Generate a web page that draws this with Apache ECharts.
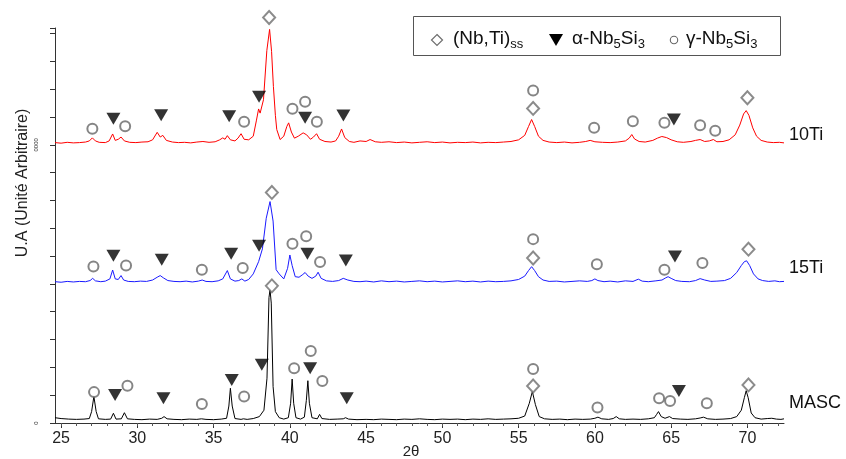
<!DOCTYPE html>
<html><head><meta charset="utf-8">
<script src="https://cdn.jsdelivr.net/npm/echarts@6/dist/echarts.min.js"></script>
<style>html,body{margin:0;padding:0;background:#fff}#c{width:846px;height:459px}</style>
</head><body><div id="c"></div>
<script>
// ---- tick labels ----
const xTickLabels = [25, 30, 35, 40, 45, 50, 55, 60, 65, 70];
const xMinorTicks = [25,26,27,28,29,30,31,32,33,34,35,36,37,38,39,40,41,42,43,44,45,46,47,48,49,50,51,52,53,54,55,56,57,58,59,60,61,62,63,64,65,66,67,68,69,70,71,72];
const seriesNames = ['10Ti', '15Ti', 'MASC'];
const phaseNames = ['(Nb,Ti)ss', 'α-Nb5Si3', 'γ-Nb5Si3'];

// ---- curve offsets (vertical stacking) ----
const offset10Ti = 1006;
const offset15Ti = 506;
const offsetMASC = 11;

// ---- 10Ti (red) ----
const x10Ti = [24.6,25.0,25.4,25.8,26.2,26.6,26.85,27.05,27.25,27.5,27.9,28.15,28.38,28.55,28.75,28.93,29.15,29.5,29.9,30.3,30.7,31.0,31.3,31.5,31.67,31.9,32.3,32.7,33.1,33.5,33.9,34.3,34.7,35.1,35.4,35.6,35.75,35.9,36.1,36.4,36.6,36.8,37.0,37.3,37.6,37.8,37.95,38.05,38.15,38.27,38.49,38.67,38.8,38.92,39.05,39.14,39.36,39.6,39.8,39.92,40.1,40.3,40.55,40.87,41.1,41.35,41.55,41.75,41.95,42.3,42.7,43.0,43.2,43.39,43.6,43.9,44.2,44.6,45.0,45.26,45.6,46.0,46.5,47.0,47.5,48.0,48.5,49.0,49.5,50.0,50.5,51.0,51.5,52.0,52.5,53.0,53.5,54.0,54.5,55.0,55.4,55.65,55.85,56.05,56.3,56.6,57.0,57.5,58.0,58.5,59.0,59.4,59.69,60.0,60.5,61.0,61.5,62.0,62.25,62.42,62.6,62.9,63.3,63.8,64.1,64.39,64.7,65.0,65.4,65.8,66.3,66.6,66.9,67.2,67.5,67.77,68.0,68.4,68.8,69.2,69.5,69.75,69.92,70.1,70.35,70.6,70.9,71.3,71.7,72.1,72.4];
const y10Ti = [2,0,3,1,2,4,8,19,8,3,2,8,33,10,14,22,8,3,2,4,5,12,39,22,28,10,4,2,3,1,4,6,3,5,12,19,14,27,12,8,18,34,14,12,25,80,123,108,112,156,333,409,330,204,100,49,13,25,60,73,40,18,25,37,30,14,22,34,14,6,4,8,25,51,20,6,3,8,6,13,5,3,5,2,4,1,3,5,2,4,1,3,2,4,1,3,2,4,6,12,28,60,85,60,25,10,4,2,4,1,3,6,10,5,3,2,4,8,18,31,15,6,4,10,18,24,20,12,5,3,6,10,13,6,8,13,5,6,12,30,65,105,117,100,55,25,10,4,2,3,1];

// ---- 15Ti (blue) ----
const x15Ti = [24.6,25.0,25.4,25.8,26.2,26.6,26.9,27.07,27.25,27.6,27.9,28.2,28.38,28.55,28.75,28.93,29.1,29.4,29.8,30.2,30.6,31.0,31.3,31.5,31.7,32.0,32.4,32.8,33.2,33.6,34.0,34.25,34.5,34.9,35.3,35.6,35.9,36.1,36.4,36.65,36.85,37.05,37.3,37.6,37.95,38.2,38.45,38.7,38.9,39.1,39.3,39.6,39.85,40.0,40.15,40.35,40.6,40.85,41.0,41.2,41.45,41.7,41.85,42.05,42.4,42.8,43.2,43.5,43.8,44.2,44.6,45.0,45.5,46.0,46.5,47.0,47.5,48.0,48.5,49.0,49.5,50.0,50.5,51.0,51.5,52.0,52.5,53.0,53.5,54.0,54.5,55.0,55.4,55.65,55.85,56.05,56.3,56.6,57.0,57.5,58.0,58.5,59.0,59.5,59.8,60.0,60.2,60.6,61.0,61.5,62.0,62.5,62.85,63.1,63.5,64.0,64.4,64.65,64.8,65.0,65.3,65.7,66.2,66.6,66.9,67.0,67.2,67.6,68.0,68.5,68.9,69.3,69.6,69.8,69.95,70.15,70.4,70.7,71.0,71.4,71.8,72.1,72.4];
const y15Ti = [2,0,3,1,3,2,6,14,5,2,4,12,44,12,10,24,8,3,2,4,3,8,18,24,16,6,3,2,4,1,4,8,3,2,5,12,42,12,4,6,12,4,10,30,74,120,230,290,220,45,30,12,50,98,60,20,18,28,35,22,14,22,36,14,5,3,6,14,8,3,2,4,1,5,2,4,1,3,5,2,4,1,3,5,2,4,1,4,2,3,5,10,22,42,56,42,20,8,3,4,1,3,5,3,6,12,6,2,4,1,5,3,11,4,2,5,8,16,20,14,6,3,2,6,13,18,8,3,4,6,14,35,60,74,77,60,30,12,6,3,5,2,3];

// ---- MASC (black) ----
const xMASC = [24.6,25.0,25.5,26.0,26.5,26.85,27.0,27.15,27.3,27.45,27.9,28.25,28.43,28.6,28.95,29.15,29.35,29.8,30.3,30.8,31.3,31.6,31.75,31.95,32.4,32.9,33.4,33.9,34.2,34.33,34.5,35.0,35.5,35.85,36.0,36.1,36.22,36.4,36.8,36.95,37.2,37.6,38.0,38.3,38.5,38.63,38.7,38.78,38.9,39.05,39.3,39.6,39.9,40.05,40.15,40.25,40.4,40.7,40.95,41.08,41.18,41.28,41.45,41.8,41.95,42.1,42.6,43.1,43.5,43.65,43.85,44.4,45.0,45.5,46.0,46.5,47.0,47.5,48.0,48.5,49.0,49.5,50.0,50.5,51.0,51.5,52.0,52.5,53.0,53.5,54.0,54.5,55.0,55.4,55.7,55.9,56.1,56.35,56.7,57.2,57.7,58.2,58.7,59.2,59.7,60.0,60.2,60.45,60.9,61.2,61.4,61.6,62.0,62.5,63.0,63.5,63.9,64.05,64.17,64.35,64.6,64.89,65.1,65.6,66.1,66.6,66.9,67.12,67.4,67.9,68.4,68.9,69.3,69.6,69.8,69.92,70.05,70.25,70.5,70.9,71.3,71.6,71.9,72.2,72.4];
const yMASC = [8,5,3,2,3,5,30,84,30,4,2,3,24,3,4,26,4,2,1,3,2,6,12,4,2,1,3,2,4,8,2,1,3,6,50,114,50,5,2,4,2,5,12,35,150,440,468,420,120,30,8,3,8,60,147,60,8,3,10,70,141,60,8,4,20,5,2,3,4,8,3,1,2,1,3,2,1,3,2,4,2,1,3,2,3,1,3,2,4,2,3,4,6,14,60,102,55,12,4,2,3,1,3,2,3,6,10,4,2,5,12,4,2,3,2,4,8,20,30,12,6,12,5,3,2,4,7,10,4,2,3,5,12,35,80,105,80,25,8,3,5,6,3,2,4];

// ---- phase markers [2θ, U.A] ----
const nbTiSS = [[38.64,1458],[55.95,1131],[70.00,1169],[38.82,829],[55.95,593],[70.07,625],[38.82,493],[55.95,133],[70.07,137]];
const alphaNb5Si3 = [[28.43,1094],[31.56,1106],[36.02,1103],[37.98,1173],[41.00,1097],[43.51,1105],[65.18,1091],
  [28.43,601],[31.60,587],[36.15,608],[37.98,637],[41.15,608],[43.67,584],[65.25,599],
  [28.54,101],[31.71,89],[36.19,155],[38.16,209],[41.33,197],[43.73,89],[65.51,115]];
const gammaNb5Si3 = [[27.05,1058],[29.20,1067],[37.00,1083],[40.17,1130],[41.00,1155],[41.77,1083],[55.95,1195],[59.95,1061],[62.49,1085],[64.56,1079],[66.90,1070],[67.89,1051],
  [27.12,563],[29.26,566],[34.23,551],[36.91,557],[40.17,644],[41.07,671],[41.98,579],[55.95,661],[60.13,571],[64.56,551],[67.05,575],
  [27.16,111],[29.35,134],[34.23,68],[37.00,95],[40.28,197],[41.37,259],[42.13,151],[55.95,194],[60.17,56],[64.21,89],[64.93,79],[67.34,71]];

function zip(xs, ys, off) { return xs.map((x, i) => [x, ys[i] + off]); }

const chart = echarts.init(document.getElementById('c'), null, {renderer: 'canvas'});
const FONT = 'Liberation Sans, Arial, sans-serif';
const lineCommon = {type: 'line', showSymbol: false, symbol: 'none', smooth: false, animation: false, silent: true};
const legendRich = {
  a: {fontSize: 19, fontFamily: FONT, color: '#111'},
  s: {fontSize: 13, fontFamily: FONT, color: '#111', padding: [11, 0, 0, 0]}
};
const legendTexts = ['{a|(Nb,Ti)}{s|ss}', '{a|α-Nb}{s|5}{a|Si}{s|3}', '{a|γ-Nb}{s|5}{a|Si}{s|3}'];
chart.setOption({
  animation: false,
  backgroundColor: '#fff',
  grid: {left: 55, right: 62, top: 28, bottom: 36, containLabel: false, outerBoundsMode: 'none'},
  xAxis: [{
    type: 'value', min: 24.6, max: 72.4,
    axisLine: {show: true, lineStyle: {color: '#333', width: 1}},
    axisTick: {show: true, length: 5, customValues: xTickLabels, lineStyle: {color: '#333'}},
    axisLabel: {customValues: xTickLabels, fontFamily: FONT, fontSize: 16, color: '#222', margin: 8},
    splitLine: {show: false}
  }, {
    type: 'value', min: 24.6, max: 72.4, position: 'bottom', offset: 0, gridIndex: 0,
    axisLine: {show: false},
    axisTick: {show: true, length: 3, customValues: xMinorTicks, lineStyle: {color: '#555'}},
    axisLabel: {show: false},
    splitLine: {show: false}
  }],
  yAxis: {
    type: 'value', min: 0, max: 1420, interval: 100,
    axisLine: {show: true, lineStyle: {color: '#333', width: 1}},
    axisTick: {show: true, length: 5, lineStyle: {color: '#333'}},
    axisLabel: {
      rotate: 90, fontSize: 6, fontFamily: FONT, color: '#333', margin: 16,
      formatter: function (v) { return v === 0 ? '0' : (v === 1000 ? '0000' : ''); }
    },
    splitLine: {show: false}
  },
  graphic: [
    {type: 'text', left: 789, top: 126, style: {text: seriesNames[0], font: '18px ' + FONT, fill: '#111'}},
    {type: 'text', left: 789, top: 259, style: {text: seriesNames[1], font: '18px ' + FONT, fill: '#111'}},
    {type: 'text', left: 789, top: 394, style: {text: seriesNames[2], font: '18px ' + FONT, fill: '#111'}},
    {type: 'text', x: 23, y: 183, rotation: Math.PI / 2,
      style: {text: 'U.A (Unité Arbitraire)', font: '16px ' + FONT, fill: '#222', textAlign: 'center', textVerticalAlign: 'middle'}},
    {type: 'text', x: 411, y: 452,
      style: {text: '2θ', font: '15px ' + FONT, fill: '#222', textAlign: 'center', textVerticalAlign: 'middle'}},
    // legend box
    {type: 'rect', z: 20, shape: {x: 413.5, y: 16.5, width: 367, height: 39},
      style: {fill: '#fff', stroke: '#555', lineWidth: 1}},
    {type: 'polygon', z: 21, shape: {points: [[437, 34.5], [442.5, 40], [437, 45.5], [431.5, 40]]},
      style: {fill: '#fff', stroke: '#6e6e6e', lineWidth: 1.2}},
    {type: 'text', z: 21, x: 453, y: 39,
      style: {text: legendTexts[0], rich: legendRich, verticalAlign: 'middle', fill: '#111'}},
    {type: 'polygon', z: 21, shape: {points: [[549, 34], [563, 34], [556, 46]]},
      style: {fill: '#000'}},
    {type: 'text', z: 21, x: 572, y: 39,
      style: {text: legendTexts[1], rich: legendRich, verticalAlign: 'middle', fill: '#111'}},
    {type: 'circle', z: 21, shape: {cx: 674, cy: 40, r: 3.7},
      style: {fill: '#fff', stroke: '#666', lineWidth: 1.1}},
    {type: 'text', z: 21, x: 686, y: 39,
      style: {text: legendTexts[2], rich: legendRich, verticalAlign: 'middle', fill: '#111'}}
  ],
  series: [
    Object.assign({}, lineCommon, {name: seriesNames[0], data: zip(x10Ti, y10Ti, offset10Ti), lineStyle: {color: '#ff0000', width: 1}, itemStyle: {color: '#ff0000'}, z: 2}),
    Object.assign({}, lineCommon, {name: seriesNames[1], data: zip(x15Ti, y15Ti, offset15Ti), lineStyle: {color: '#1a1aff', width: 1}, itemStyle: {color: '#1a1aff'}, z: 2}),
    Object.assign({}, lineCommon, {name: seriesNames[2], data: zip(xMASC, yMASC, offsetMASC), lineStyle: {color: '#000', width: 1}, itemStyle: {color: '#000'}, z: 2}),
    {type: 'scatter', name: phaseNames[0], data: nbTiSS, symbol: 'emptyDiamond', symbolSize: [12, 13], clip: false,
      itemStyle: {color: '#6e6e6e', borderWidth: 1.2}, z: 5, silent: true},
    {type: 'scatter', name: phaseNames[1], data: alphaNb5Si3, symbol: 'triangle', symbolRotate: 180, symbolSize: [14, 12], clip: false,
      itemStyle: {color: '#000'}, z: 5, silent: true},
    {type: 'scatter', name: phaseNames[2], data: gammaNb5Si3, symbol: 'emptyCircle', symbolSize: 10, clip: false,
      itemStyle: {color: '#666', borderWidth: 1.2}, z: 5, silent: true}
  ]
});
</script></body></html>
